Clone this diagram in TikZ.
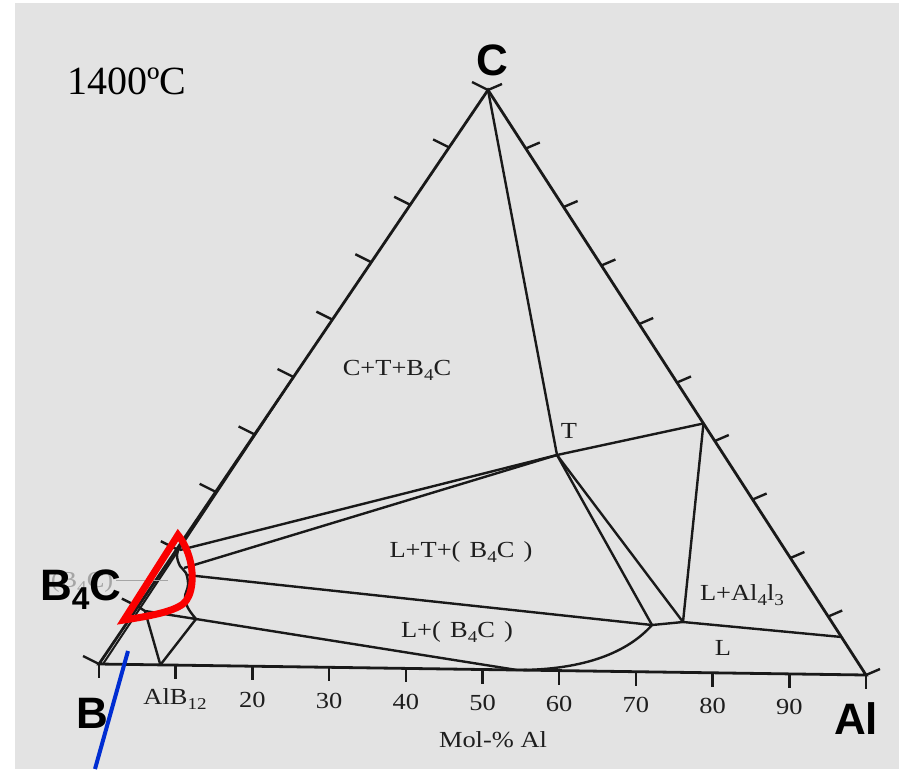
\documentclass[tikz,border=0pt]{standalone}
\usepackage{fontspec}
\setmainfont{Liberation Serif}
\newfontfamily\labfont[FakeStretch=1.15]{Liberation Serif}
\newfontfamily\bigfont{Liberation Sans}
\usetikzlibrary{calc}
\definecolor{bg}{RGB}{227,227,227}
\definecolor{ink}{RGB}{25,25,25}
\definecolor{txt}{RGB}{30,30,30}
\definecolor{ghost}{RGB}{165,165,165}
\definecolor{redm}{RGB}{250,0,0}
\definecolor{bluem}{RGB}{0,45,210}
\newcommand\dn[1]{\raisebox{-0.22em}{\scalebox{0.72}{#1}}}
\newcommand\gp{\hspace{0.4em}}
\begin{document}
\begin{tikzpicture}[x=1pt,y=-1pt,
  edge/.style={ink, line width=2.8pt},
  ph/.style={ink, line width=2.4pt},
  tk/.style={ink, line width=2.4pt},
  lab/.style={txt, font=\labfont\fontsize{23}{23}\selectfont, inner sep=0pt, anchor=base},
  big/.style={black, font=\bigfont\bfseries\fontsize{44}{44}\selectfont, inner sep=0pt, anchor=base},
  temp/.style={black, font=\fontsize{40}{40}\selectfont, inner sep=0pt, anchor=base}]
\fill[white] (0,0) rectangle (899,769);
\fill[bg] (15,3) rectangle (899,769);
\useasboundingbox (0,0) rectangle (899,769);
% vertices
\coordinate (B) at (99,664);
\coordinate (Al) at (866,675);
\coordinate (C) at (488,90);
% interior points
\coordinate (T) at (557,455);
\coordinate (P1) at ($(Al)!0.43!(C)$);
\coordinate (Q1) at (652,625);
\coordinate (Q2) at (683,622);
\coordinate (R1) at ($(Al)!0.065!(C)$);
\coordinate (E) at (517,670);
\coordinate (AB) at ($(B)!0.08!(Al)$);
\coordinate (A1) at (196,619);
\coordinate (A2) at (145,611);
\coordinate (K1) at ($(B)!0.1!(C)$);
\coordinate (L1) at (180,550);
\coordinate (L2) at (184,568);
\coordinate (L3) at (187,575);
\coordinate (D1) at ($(B)!0.5!(C)$);
% triangle
\draw[edge, line join=miter] (B) -- (Al) -- (C) -- cycle;
\draw[ph, line width=2pt] ($(B)+(4,0)$) -- (D1);
% ticks
\foreach \i in {0,...,10} {
  \draw[tk] ($(B)!\i/10!(Al)$) -- ++(0,14);
  \draw[tk] ($(B)!\i/10!(C)$) -- ++(-16,-8);
  \draw[tk] ($(Al)!\i/10!(C)$) -- ++(14,-6);
}
% phase boundaries
\draw[ph] (C) -- (T);
\draw[ph] (T) -- (P1);
\draw[ph] (T) -- (Q1);
\draw[ph] (T) -- (Q2);
\draw[ph] (P1) -- (Q2);
\draw[ph] (Q1) -- (Q2);
\draw[ph] (Q2) -- (R1);
\draw[ph] (L1) -- (T);
\draw[ph] (L2) -- (T);
\draw[ph] (L3) -- (Q1);
\draw[ph] (A1) -- (E);
\draw[ph] (Q1) .. controls (628,652) and (585,670) .. (E);
\draw[ph] (A1) -- (AB);
\draw[ph] (A2) -- (AB);
\draw[ph] (K1) -- (A2) -- (A1);
\draw[ph] plot[smooth, tension=0.6] coordinates {(181,543) (177,555) (180,566) (186,573) (188,585) (185,597) (188,608) (196,619)};
% ghost label
\draw[ghost, line width=0.8pt] (116,580) -- (168,580);
\node[lab, ghost] (gh) at (82,587) {(B\dn{4}C)};
% labels
\node[temp] (temp) at (127,94) {1400ºC};
\node[lab] (l1) at (397,375) {C+T+B\dn{4}C};
\node[lab] (l2) at (569,438) {T};
\node[lab] (l3) at (461,557) {L+T+(\gp B\dn{4}C\gp)};
\node[lab] (l4) at (457,637) {L+(\gp B\dn{4}C\gp)};
\node[lab] (l5) at (742,600) {L+Al\dn{4}l\dn{3}};
\node[lab] (l6) at (723,655) {L};
\node[lab] (l7) at (175,704) {AlB\dn{12}};
\foreach \k in {2,...,9} {
  \node[lab] (n\k) at ($(B)!\k/10!(Al)+(0,41)$) {\k0};
}
\node[lab] (mol) at (493,747) {Mol-\% Al};
% big labels
\node[big] (bC) at (492,75) {C};
\node[big, anchor=base west] (bB4C) at (40,600) {B\dn{4}C};
\node[big] (bB) at (92,728) {B};
\node[big] (bAl) at (856,734) {Al};
% highlights
\draw[redm, line width=7pt] (178,535) -- (124,620) .. controls (150,616) and (172,612) .. (183,604) .. controls (193,596) and (194,575) .. (190,560) .. controls (187,548) and (182,540) .. cycle;
\draw[bluem, line width=4pt] (128,651) -- (95,769);
\end{tikzpicture}
\end{document}
